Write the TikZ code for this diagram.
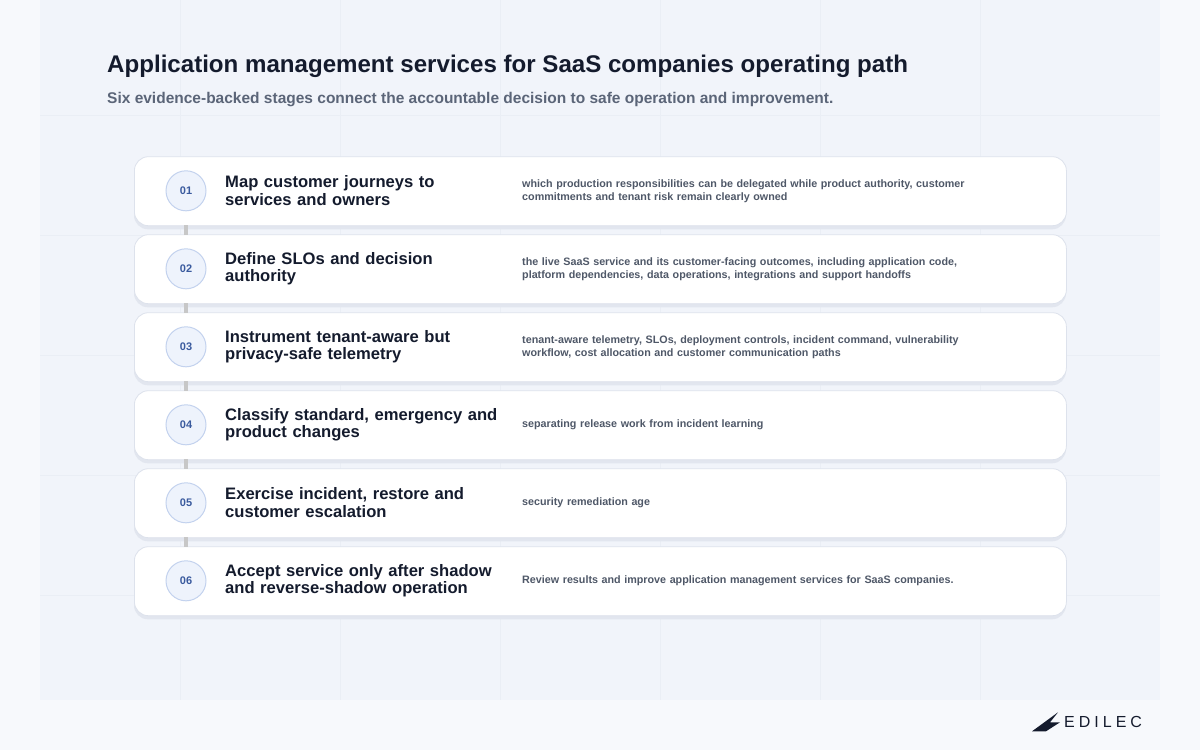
\documentclass[tikz,border=0pt]{standalone}
\usepackage{fontspec}
\setmainfont{Liberation Sans}
\definecolor{bgo}{HTML}{F7F9FC}
\definecolor{bgi}{HTML}{F1F4FA}
\definecolor{gridc}{HTML}{EAEEF5}
\definecolor{ink}{HTML}{141B2D}
\definecolor{subc}{HTML}{5B6578}
\definecolor{descc}{HTML}{4F5868}
\definecolor{numc}{HTML}{3A5A9E}
\definecolor{numf}{HTML}{EEF3FC}
\definecolor{numd}{HTML}{C3D2EE}
\definecolor{cardd}{HTML}{DDE2EC}
\definecolor{shad}{HTML}{E2E6EF}
\begin{document}
\begin{tikzpicture}[x=1pt,y=-1pt,
  card/.style={draw=cardd,line width=0.8pt,fill=white,rounded corners=14pt,minimum width=932pt,minimum height=69pt,anchor=north west},
  num/.style={circle,draw=numd,fill=numf,line width=1pt,minimum size=40pt,inner sep=0pt,font=\fontsize{11}{12}\selectfont\bfseries,text=numc},
  head/.style={anchor=west,align=left,inner sep=0pt,text width=290pt,font=\fontsize{16.6}{17.5}\selectfont\bfseries,text=ink},
  desc/.style={anchor=west,align=left,inner sep=0pt,text width=470pt,font=\fontsize{10.75}{13}\selectfont\bfseries,text=descc},
  link/.style={draw=black!22,line width=4pt}]
\fill[bgo] (0,0) rectangle (1200,750);
\fill[bgi] (40,0) rectangle (1160,700);
\foreach \x in {180,340,500,660,820,980} \draw[gridc,line width=0.6pt] (\x,0)--(\x,700);
\foreach \y in {115,235,355,475,595} \draw[gridc,line width=0.6pt] (40,\y)--(1160,\y);
\useasboundingbox (0,0) rectangle (1200,750);
\node[anchor=base west,inner sep=0pt,font=\fontsize{24.1}{28}\selectfont\bfseries,text=ink] (title) at (107,72) {Application management services for SaaS companies operating path};
\node[anchor=base west,inner sep=0pt,font=\fontsize{15.5}{17}\selectfont\bfseries,text=subc] (sub) at (107,103) {Six evidence-backed stages connect the accountable decision to safe operation and improvement.};
\foreach \i/\h/\d [count=\k from 0] in {
 01/{Map customer journeys to\\services and owners}/{which production responsibilities can be delegated while product authority, customer\\commitments and tenant risk remain clearly owned},
 02/{Define SLOs and decision\\authority}/{the live SaaS service and its customer-facing outcomes, including application code,\\platform dependencies, data operations, integrations and support handoffs},
 03/{Instrument tenant-aware but\\privacy-safe telemetry}/{tenant-aware telemetry, SLOs, deployment controls, incident command, vulnerability\\workflow, cost allocation and customer communication paths},
 04/{Classify standard, emergency and\\product changes}/{separating release work from incident learning},
 05/{Exercise incident, restore and\\customer escalation}/{security remediation age},
 06/{Accept service only after shadow\\and reverse-shadow operation}/{Review results and improve application management services for SaaS companies.}}
{
 \pgfmathsetmacro\yy{156+78*\k}
 \fill[shad,rounded corners=14pt] (134,\yy+3) rectangle (1066,\yy+73);
 \node[card] (c\i) at (134,\yy) {};
 \node[num] (n\i) at (186,\yy+34.5) {\i};
 \node[head] (h\i) at (225,\yy+34.5) {\h};
 \node[desc] (d\i) at (522,\yy+34.5) {\d};
}
\foreach \a/\b in {01/02,02/03,03/04,04/05,05/06}
 \path[link] ([yshift=1pt]c\a.south -| n\a) -- ([yshift=-1pt]c\b.north -| n\b);
\node[anchor=west,inner sep=0pt,font=\fontsize{16}{18}\selectfont,text=ink] (logo) at (1064,722) {\addfontfeature{LetterSpace=25}EDILEC};
\fill[ink] (1032,731) -- (1058,712) -- (1050,722) -- (1060,722) -- (1046,731) -- cycle;
\end{tikzpicture}
\end{document}
